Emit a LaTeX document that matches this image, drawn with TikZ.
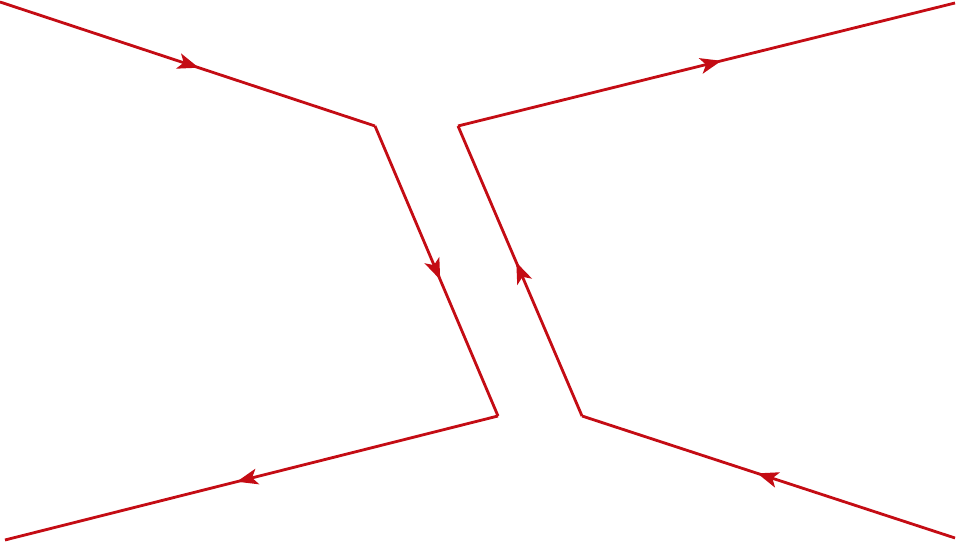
\documentclass[tikz,border=0pt]{standalone}
\usepackage{amsmath}
\usepackage{tikz}
\usetikzlibrary{arrows.meta,decorations.markings}

\definecolor{linered}{RGB}{196,12,20}

\tikzset{
    flow/.style={draw=linered, line width=1.6pt, line join=miter,
        postaction={decorate, decoration={markings,
            mark=at position 0.53 with {\arrow[linered]{Stealth[length=12pt,width=9pt,inset=3pt]}}}}}
}

\begin{document}
\begin{tikzpicture}
            \useasboundingbox (0, 0) rectangle (19.2, 10.92);

            \coordinate (L0) at (0, 10.88);
            \coordinate (L1) at (7.5, 8.4);
            \coordinate (L2) at (9.96, 2.6);
            \coordinate (L3) at (0.1, 0.12);

            \coordinate (R0) at (19.1, 0.16);
            \coordinate (R1) at (11.64, 2.6);
            \coordinate (R2) at (9.16, 8.4);
            \coordinate (R3) at (19.1, 10.86);

            \draw [flow] (L0) -- (L1);
            \draw [flow] (L1) -- (L2);
            \draw [flow] (L2) -- (L3);

            \draw [flow] (R0) -- (R1);
            \draw [flow] (R1) -- (R2);
            \draw [flow] (R2) -- (R3);
        \end{tikzpicture}
\end{document}
